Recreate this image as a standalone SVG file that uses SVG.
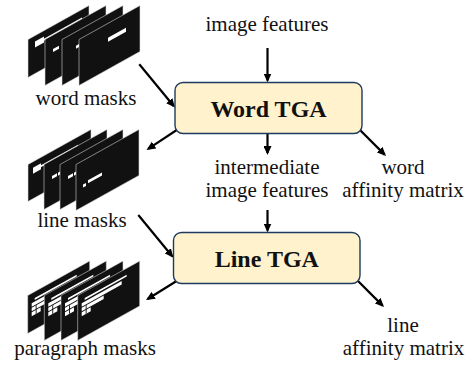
<svg xmlns="http://www.w3.org/2000/svg" width="472" height="367" viewBox="0 0 472 367">
<defs>
<style>
.t{font-family:'Liberation Serif','Times New Roman',serif;font-size:21px;fill:#111;text-anchor:middle}
.b{font-family:'Liberation Serif','Times New Roman',serif;font-size:24px;font-weight:bold;fill:#111;text-anchor:middle}
.box{fill:#fff2cc;stroke:#1f3a5f;stroke-width:1.4}
.sh{fill:#111;stroke:#ddd;stroke-width:0.5}
.w{fill:#fff}
.k{fill:#111}
.c{stroke:#000;stroke-width:2.2;fill:none;marker-end:url(#ah)}
</style>
<marker id="ah" viewBox="0 0 9 8" refX="7" refY="4" markerWidth="9" markerHeight="8" markerUnits="userSpaceOnUse" orient="auto">
<path d="M0,0L9,4L0,8z" fill="#000"/>
</marker>
</defs>
<rect width="472" height="367" fill="#fff"/>

<g id="connectors">
<line class="c" x1="267.5" y1="48" x2="267.5" y2="80.5"/>
<line class="c" x1="267.5" y1="132" x2="267.5" y2="153"/>
<line class="c" x1="267.5" y1="210" x2="267.5" y2="230.5"/>
<line class="c" x1="358" y1="128" x2="384.6" y2="154.6"/>
<line class="c" x1="356" y1="279" x2="382.6" y2="305.6"/>
<line class="c" x1="139.3" y1="64.3" x2="173.7" y2="106"/>
<line class="c" x1="179" y1="128.5" x2="148.2" y2="148.9"/>
<line class="c" x1="138.3" y1="215" x2="172.2" y2="256.2"/>
<line class="c" x1="179" y1="279.5" x2="147.7" y2="299"/>
</g>

<g id="word-masks">
<g transform="matrix(1,-0.557,0,1,28,39.5)"><rect class="sh" width="61" height="38"/><rect class="w" x="7" y="6" width="9" height="6"/><rect class="w" x="15" y="8" width="39" height="2"/></g>
<g transform="matrix(1,-0.557,0,1,45,39.5)"><rect class="sh" width="61" height="46"/><rect class="w" x="8" y="14" width="6" height="3"/></g>
<g transform="matrix(1,-0.557,0,1,62,39.5)"><rect class="sh" width="61" height="46"/><rect class="w" x="14" y="14" width="6" height="3"/></g>
<g transform="matrix(1,-0.557,0,1,79,39.5)"><rect class="sh" width="61" height="46"/><rect class="w" x="29" y="14.5" width="18" height="4"/></g>
<text class="t" x="86" y="105">word masks</text>
</g>

<g id="line-masks">
<g transform="matrix(1,-0.557,0,1,28,164.5)"><rect class="sh" width="63" height="37"/><rect class="w" x="5" y="6" width="8" height="6"/><rect class="w" x="12" y="8" width="38" height="2"/></g>
<g transform="matrix(1,-0.557,0,1,44,164.5)"><rect class="sh" width="63" height="45"/><rect class="w" x="8" y="16" width="5" height="3"/><rect class="w" x="14" y="16" width="2" height="3"/></g>
<g transform="matrix(1,-0.557,0,1,60,164.5)"><rect class="sh" width="63" height="45"/><rect class="w" x="8" y="16" width="5" height="3"/><rect class="w" x="14" y="16" width="2" height="3"/></g>
<g transform="matrix(1,-0.557,0,1,76,164.5)"><rect class="sh" width="63" height="46"/><rect class="w" x="7" y="24" width="3" height="3"/><rect class="w" x="12" y="22.5" width="14" height="3"/></g>
<text class="t" x="82" y="227">line masks</text>
</g>

<g id="paragraph-masks">
<g transform="matrix(1,-0.557,0,1,27.7,295.5)"><rect class="sh" width="62" height="38"/><rect class="w" x="7" y="6.5" width="42" height="1.8"/><rect class="w" x="4" y="10" width="40" height="3.5"/><rect class="w" x="4" y="14.5" width="22" height="3.5"/><rect class="w" x="4" y="19" width="9" height="4"/><rect class="k" x="8" y="14.5" width="0.9" height="8.5"/></g>
<g transform="matrix(1,-0.557,0,1,44.3,295.5)"><rect class="sh" width="62" height="45"/><rect class="w" x="7" y="6.5" width="42" height="1.8"/><rect class="w" x="4" y="10" width="40" height="3.5"/><rect class="w" x="4" y="14.5" width="22" height="3.5"/><rect class="w" x="4" y="19" width="9" height="4"/><rect class="k" x="8" y="14.5" width="0.9" height="8.5"/></g>
<g transform="matrix(1,-0.557,0,1,61,295.5)"><rect class="sh" width="62" height="45"/><rect class="w" x="7" y="6.5" width="42" height="1.8"/><rect class="w" x="4" y="10" width="40" height="3.5"/><rect class="w" x="4" y="14.5" width="22" height="3.5"/><rect class="w" x="4" y="19" width="9" height="4"/><rect class="k" x="8" y="14.5" width="0.9" height="8.5"/></g>
<g transform="matrix(1,-0.557,0,1,77.7,295.5)"><rect class="sh" width="62" height="45"/><rect class="w" x="7" y="6.5" width="42" height="1.8"/><rect class="w" x="4" y="10" width="40" height="3.5"/><rect class="w" x="4" y="14.5" width="22" height="3.5"/><rect class="w" x="4" y="19" width="9" height="4"/><rect class="k" x="8" y="14.5" width="0.9" height="8.5"/></g>
<text class="t" x="85" y="355">paragraph masks</text>
</g>

<g id="image-features">
<text class="t" x="267" y="31">image features</text>
</g>

<g id="word-tga">
<rect class="box" x="175" y="82.5" width="187" height="51" rx="8"/>
<text class="b" x="268.5" y="116.5">Word TGA</text>
</g>

<g id="intermediate-features">
<text class="t" x="267" y="174">intermediate</text>
<text class="t" x="267" y="197">image features</text>
</g>

<g id="word-affinity">
<text class="t" x="403" y="174">word</text>
<text class="t" x="403" y="197">affinity matrix</text>
</g>

<g id="line-tga">
<rect class="box" x="173.5" y="232.5" width="186.5" height="51" rx="8"/>
<text class="b" x="266.8" y="267">Line TGA</text>
</g>

<g id="line-affinity">
<text class="t" x="403" y="331.5">line</text>
<text class="t" x="403.5" y="355">affinity matrix</text>
</g>
</svg>
